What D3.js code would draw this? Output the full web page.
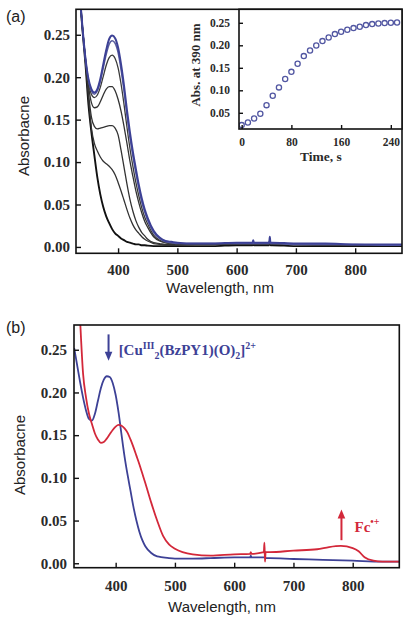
<!DOCTYPE html>
<html><head><meta charset="utf-8">
<script src="https://cdn.jsdelivr.net/npm/d3@7"></script>
<style>
html,body{margin:0;padding:0;background:#fff;}
svg{display:block;}
</style></head>
<body>
<svg id="c" width="411" height="622"></svg>
<script>
// ---------- DATA ----------
// Panel (a): spectra recorded over time (wavelength grid, nm)
const waveA = [330,335,340,345,350,355,360,365,370,375,380,385,390,395,400,405,410,415,420,425,430,435,440,445,450,460,470,480,490,500,530,560,600,627,628,629,650,655,656,657,660,700,750,800,850,879];
const specA1 = [.345,.300,.258,.222,.198,.186,.182,.186,.198,.215,.232,.245,.249,.246,.235,.215,.190,.161,.135,.112,.092,.073,.057,.044,.034,.019,.011,.007,.006,.005,.004,.004,.005,.005,.008,.005,.005,.005,.012,.005,.005,.004,.004,.003,.003,.003];
const specA2 = [.345,.300,.258,.222,.197,.184,.180,.184,.195,.211,.227,.239,.243,.240,.229,.209,.184,.155,.129,.107,.087,.069,.053,.041,.031,.017,.010,.006,.005,.004,.004,.004,.004,.004,.007,.004,.004,.004,.010,.004,.004,.003,.003,.003,.002,.002];
const specA3 = [.345,.300,.258,.222,.194,.180,.176,.179,.188,.201,.214,.223,.226,.222,.211,.192,.168,.141,.116,.095,.076,.060,.046,.035,.027,.014,.008,.005,.004,.004,.003,.003,.004,.004,.006,.004,.004,.004,.009,.004,.004,.003,.003,.002,.002,.002];
const specA4 = [.345,.300,.258,.221,.190,.170,.164,.165,.171,.179,.186,.189,.189,.184,.174,.160,.142,.122,.101,.083,.066,.052,.040,.030,.023,.012,.007,.005,.004,.004,.003,.003,.004,.004,.006,.004,.004,.004,.009,.004,.004,.003,.003,.002,.002,.002];
const specA5 = [.345,.300,.257,.220,.182,.153,.142,.139,.140,.141,.142,.143,.143,.140,.132,.114,.094,.074,.056,.042,.031,.023,.017,.013,.009,.005,.004,.003,.003,.003,.003,.003,.003,.003,.005,.003,.003,.003,.008,.003,.003,.003,.002,.002,.002,.002];
const specA6 = [.345,.300,.256,.218,.175,.140,.122,.113,.106,.101,.098,.095,.091,.085,.076,.066,.055,.044,.034,.026,.020,.016,.012,.009,.007,.004,.003,.002,.002,.002,.003,.003,.003,.003,.005,.003,.003,.003,.008,.003,.003,.003,.002,.002,.002,.002];
const specA7 = [.345,.300,.255,.215,.168,.135,.108,.082,.062,.047,.036,.028,.021,.016,.013,.010,.008,.006,.005,.004,.003,.003,.002,.002,.0015,.001,.001,.001,.001,.001,.001,.001,.002,.002,.004,.002,.002,.002,.007,.002,.002,.001,.001,.001,.001,.001];

// Inset: absorbance at 390 nm vs time
const insetTime = [0,10,20,30,40,50,60,70,80,90,100,110,120,130,140,150,160,170,180,190,200,210,220,230,240,250];
const insetAbs  = [.0227,.0286,.0375,.0478,.067,.088,.1064,.125,.141,.159,.176,.1886,.1997,.2093,.2175,.2249,.230,.2345,.2382,.2411,.2449,.2471,.2486,.2493,.250,.2508];

// Panel (b)
const waveBblue = [330,335,340,345,350,355,360,365,370,375,380,385,390,395,400,405,410,415,420,425,430,435,440,445,450,460,470,480,490,500,530,560,600,627,628,629,650,655,660,700,750,800,850,878];
const absBblue  = [.252,.232,.212,.194,.179,.169,.167,.175,.190,.205,.215,.219,.218,.211,.197,.176,.150,.125,.104,.085,.066,.050,.037,.027,.020,.012,.008,.007,.006,.0055,.0055,.006,.007,.007,.009,.007,.007,.006,.006,.005,.004,.003,.002,.002];
const waveBred = [330,335,340,345,350,355,360,365,370,375,380,385,390,395,400,405,410,415,420,425,430,435,440,445,450,460,470,480,490,500,530,560,600,627,628,629,650,651,652,653,660,700,740,760,780,800,810,820,835,850,878];
const absBred  = [.45,.36,.285,.222,.194,.175,.163,.152,.145,.141,.142,.146,.151,.156,.160,.162,.161,.158,.153,.145,.136,.126,.116,.105,.094,.071,.050,.032,.022,.017,.0105,.009,.0105,.011,.013,.011,.013,.024,.002,.013,.013,.0148,.0164,.019,.0203,.0178,.014,.007,.003,.002,.002];

// Tick labels
const xTicksMain = [400,500,600,700,800];
const yTicksMain = [0.00,0.05,0.10,0.15,0.20,0.25];
const xTicksInset = [0,80,160,240];
const yTicksInset = [0.05,0.10,0.15,0.20,0.25];

// ---------- DRAWING ----------
const svg = d3.select("#c");
const SERIF = "'Liberation Serif','Times New Roman',serif";
const SANS = "'Liberation Sans',Arial,sans-serif";
const BLUE = "#3d4196", RED = "#d3283a";

function frameAxes(g, x, y, box, opts) {
  const xa = d3.axisBottom(x).tickValues(opts.xt).tickSizeInner(-opts.tick).tickSizeOuter(0).tickPadding(opts.xpad).tickFormat(opts.xf);
  const ya = d3.axisLeft(y).tickValues(opts.yt).tickSizeInner(-opts.tick).tickSizeOuter(0).tickPadding(opts.ypad).tickFormat(d3.format(".2f"));
  const gx = g.append("g").attr("transform", `translate(0,${box.b})`).call(xa);
  const gy = g.append("g").attr("transform", `translate(${box.l},0)`).call(ya);
  [gx, gy].forEach(a => {
    a.select(".domain").remove();
    a.selectAll(".tick line").attr("stroke", "#111").attr("stroke-width", 1.4);
    a.selectAll(".tick text").attr("font-family", SERIF).attr("font-weight", "bold")
      .attr("font-size", opts.fs).attr("fill", "#2a2a2a");
  });
  g.append("rect").attr("x", box.l).attr("y", box.t).attr("width", box.r - box.l).attr("height", box.b - box.t)
    .attr("fill", "none").attr("stroke", "#111").attr("stroke-width", 1.6);
}

// ===== Panel (a) =====
const boxA = {l: 76, r: 402, t: 9.3, b: 253.3};
const xA = d3.scaleLinear().domain([329, 879]).range([boxA.l, boxA.r]);
const yA = d3.scaleLinear().domain([-0.0075, 0.28]).range([boxA.b, boxA.t]);
const gA = svg.append("g");
svg.append("clipPath").attr("id", "clipA").append("rect")
  .attr("x", boxA.l).attr("y", boxA.t).attr("width", boxA.r - boxA.l).attr("height", boxA.b - boxA.t);
const lineA = d3.line().x((d, i) => xA(waveA[i])).y(d => yA(d)).curve(d3.curveMonotoneX);
const specsA = [
  {d: specA7, c: "#111", w: 1.9},
  {d: specA6, c: "#333", w: 1.3},
  {d: specA5, c: "#333", w: 1.3},
  {d: specA4, c: "#333", w: 1.3},
  {d: specA3, c: "#3a3a3a", w: 1.3},
  {d: specA2, c: "#5a5e9e", w: 1.5},
  {d: specA1, c: BLUE, w: 2.0}
];
const cA = gA.append("g").attr("clip-path", "url(#clipA)");
specsA.forEach(s => cA.append("path").attr("d", lineA(s.d)).attr("fill", "none").attr("stroke", s.c).attr("stroke-width", s.w));

frameAxes(gA, xA, yA, boxA, {xt: xTicksMain, yt: yTicksMain, tick: 5, xpad: 11, ypad: 6, fs: 15, xf: d3.format("d")});

gA.append("text").attr("x", 220).attr("y", 293).attr("text-anchor", "middle")
  .attr("font-family", SANS).attr("font-size", 15).attr("fill", "#222").text("Wavelength, nm");
gA.append("text").attr("transform", "translate(29,136) rotate(-90)").attr("text-anchor", "middle")
  .attr("font-family", SANS).attr("font-size", 15).attr("fill", "#222").text("Absorbacne");
gA.append("text").attr("x", 6).attr("y", 22).attr("font-family", SANS).attr("font-size", 16).attr("fill", "#222").text("(a)");

// Inset
const boxI = {l: 239, r: 402, t: 9.3, b: 129};
const xI = d3.scaleLinear().domain([-4.3, 258]).range([boxI.l, boxI.r]);
const yI = d3.scaleLinear().domain([0.014, 0.28]).range([boxI.b, boxI.t]);
const gI = svg.append("g");
gI.append("rect").attr("x", boxI.l).attr("y", boxI.t).attr("width", boxI.r - boxI.l).attr("height", boxI.b - boxI.t).attr("fill", "#fff");
svg.append("clipPath").attr("id", "clipI").append("rect")
  .attr("x", boxI.l).attr("y", boxI.t).attr("width", boxI.r - boxI.l).attr("height", boxI.b - boxI.t);
gI.append("g").attr("clip-path", "url(#clipI)").selectAll("circle").data(insetTime).join("circle")
  .attr("cx", d => xI(d)).attr("cy", (d, i) => yI(insetAbs[i])).attr("r", 2.6)
  .attr("fill", "none").attr("stroke", "#5257a2").attr("stroke-width", 1.3);
frameAxes(gI, xI, yI, boxI, {xt: xTicksInset, yt: yTicksInset, tick: 4, xpad: 9, ypad: 9, fs: 11.5, xf: d3.format("d")});
gI.append("text").attr("x", 321).attr("y", 161).attr("text-anchor", "middle")
  .attr("font-family", SERIF).attr("font-weight", "bold").attr("font-size", 13.5).attr("fill", "#2a2a2a").text("Time, s");
gI.append("text").attr("transform", "translate(200,65) rotate(-90)").attr("text-anchor", "middle")
  .attr("font-family", SERIF).attr("font-weight", "bold").attr("font-size", 13).attr("fill", "#2a2a2a").text("Abs. at 390 nm");

// ===== Panel (b) =====
const boxB = {l: 74, r: 399.3, t: 325, b: 567.7};
const xB = d3.scaleLinear().domain([329.7, 878.6]).range([boxB.l, boxB.r]);
const yB = d3.scaleLinear().domain([-0.0052, 0.279]).range([boxB.b, boxB.t]);
const gB = svg.append("g");
svg.append("clipPath").attr("id", "clipB").append("rect")
  .attr("x", boxB.l).attr("y", boxB.t).attr("width", boxB.r - boxB.l).attr("height", boxB.b - boxB.t);
const cB = gB.append("g").attr("clip-path", "url(#clipB)");
const lineBblue = d3.line().x((d, i) => xB(waveBblue[i])).y(d => yB(d)).curve(d3.curveMonotoneX);
const lineBred = d3.line().x((d, i) => xB(waveBred[i])).y(d => yB(d)).curve(d3.curveMonotoneX);
cB.append("path").attr("d", lineBblue(absBblue)).attr("fill", "none").attr("stroke", BLUE).attr("stroke-width", 1.8);
cB.append("path").attr("d", lineBred(absBred)).attr("fill", "none").attr("stroke", RED).attr("stroke-width", 1.8);

frameAxes(gB, xB, yB, boxB, {xt: xTicksMain, yt: yTicksMain, tick: 5, xpad: 13, ypad: 7, fs: 15, xf: d3.format("d")});

gB.append("text").attr("x", 222).attr("y", 612).attr("text-anchor", "middle")
  .attr("font-family", SANS).attr("font-size", 15).attr("fill", "#222").text("Wavelength, nm");
gB.append("text").attr("transform", "translate(25,455) rotate(-90)").attr("text-anchor", "middle")
  .attr("font-family", SANS).attr("font-size", 15).attr("fill", "#222").text("Absorbacne");
gB.append("text").attr("x", 6).attr("y", 333).attr("font-family", SANS).attr("font-size", 16).attr("fill", "#222").text("(b)");

// arrows
function arrow(x, y1, y2, color) { // from y1 to tip y2
  const dir = y2 > y1 ? 1 : -1;
  gB.append("line").attr("x1", x).attr("x2", x).attr("y1", y1).attr("y2", y2 - dir * 7)
    .attr("stroke", color).attr("stroke-width", 2);
  gB.append("path").attr("d", `M${x - 3.8},${y2 - dir * 9}L${x + 3.8},${y2 - dir * 9}L${x},${y2}Z`).attr("fill", color);
}
arrow(xB(388), yB(0.268), yB(0.237), BLUE);
arrow(xB(781), yB(0.027), yB(0.063), RED);

const t1 = gB.append("text").attr("x", xB(405)).attr("y", 355).attr("font-family", SERIF)
  .attr("font-weight", "bold").attr("font-size", 15).attr("fill", BLUE);
t1.append("tspan").text("[Cu");
t1.append("tspan").attr("font-size", 10).attr("dy", -6).text("III");
t1.append("tspan").attr("font-size", 10).attr("dy", 10).text("2");
t1.append("tspan").attr("dy", -4).text("(BzPY1)(O)");
t1.append("tspan").attr("font-size", 10).attr("dy", 4).text("2");
t1.append("tspan").attr("dy", -4).text("]");
t1.append("tspan").attr("font-size", 10).attr("dy", -6).text("2+");

const t2 = gB.append("text").attr("x", xB(803)).attr("y", 532).attr("font-family", SERIF)
  .attr("font-weight", "bold").attr("font-size", 15).attr("fill", RED);
t2.append("tspan").text("Fc");
t2.append("tspan").attr("font-size", 10).attr("dy", -7).text("•+");
</script>
</body></html>
